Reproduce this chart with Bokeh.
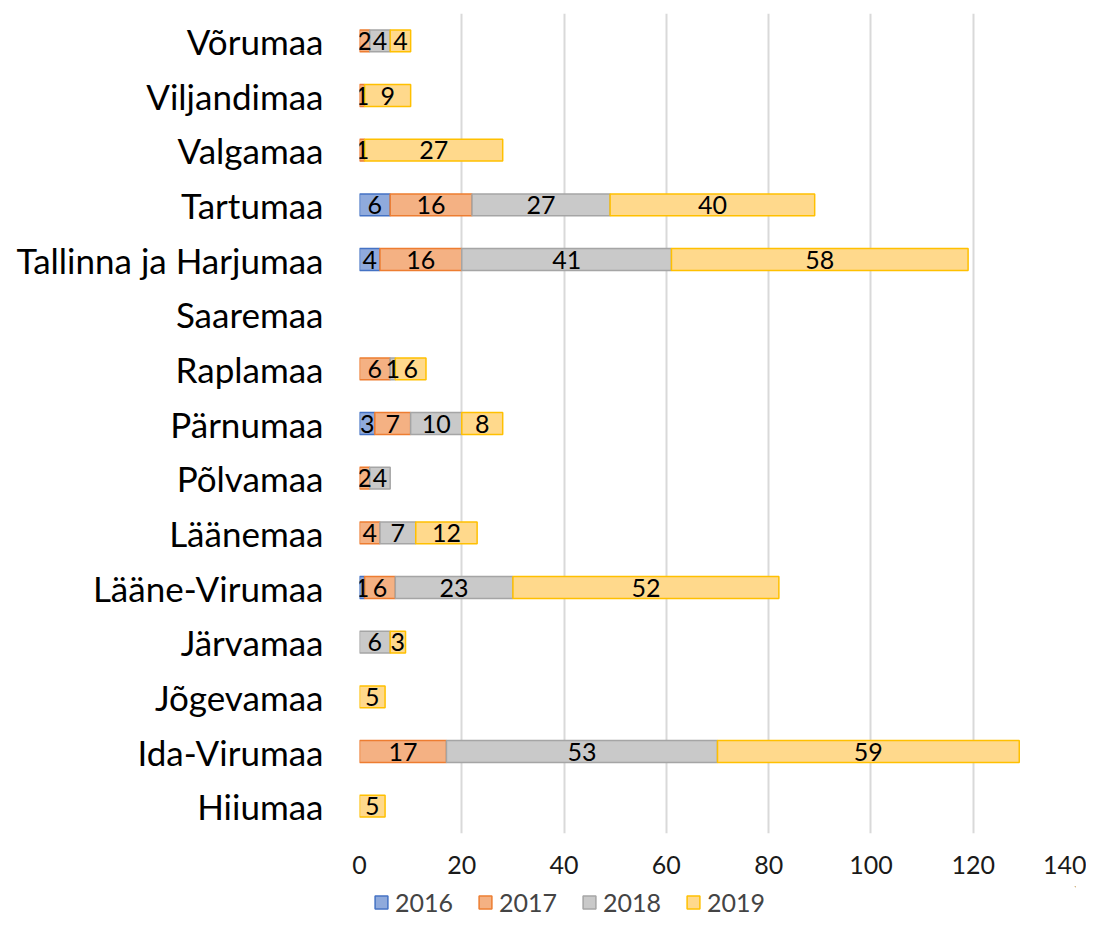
from bokeh.plotting import figure
from bokeh.layouts import column
from bokeh.models import FactorRange, Range1d, FixedTicker, Legend, LegendItem, ColumnDataSource
from bokeh.core.properties import value
from bokeh.embed import file_html
from bokeh.resources import INLINE

# categories top-to-bottom as in the chart
categories = ["Võrumaa", "Viljandimaa", "Valgamaa", "Tartumaa", "Tallinna ja Harjumaa",
              "Saaremaa", "Raplamaa", "Pärnumaa", "Põlvamaa", "Läänemaa",
              "Lääne-Virumaa", "Järvamaa", "Jõgevamaa", "Ida-Virumaa", "Hiiumaa"]
years = ["2016", "2017", "2018", "2019"]
v2016 = [0, 0, 0, 6, 4, 0, 0, 3, 0, 0, 1, 0, 0, 0, 0]
v2017 = [2, 1, 1, 16, 16, 0, 6, 7, 2, 4, 6, 0, 0, 17, 0]
v2018 = [4, 0, 0, 27, 41, 0, 1, 10, 4, 7, 23, 6, 0, 53, 0]
v2019 = [4, 9, 27, 40, 58, 0, 6, 8, 0, 12, 52, 3, 5, 59, 5]
x_ticks = [0, 20, 40, 60, 80, 100, 120, 140]

fills = ["#8faadc", "#f4b183", "#c9c9c9", "#ffd98c"]
lines = ["#4472c4", "#ed7d31", "#a5a5a5", "#ffc000"]

FONT = "Lato"

p = figure(width=1086, height=886, output_backend="svg", toolbar_location=None,
           y_range=FactorRange(*list(reversed(categories))),
           x_range=Range1d(0, 140),
           min_border_left=359, min_border_right=11, min_border_top=13, min_border_bottom=53)
p.outline_line_color = None
p.background_fill_color = "white"

series = [v2016, v2017, v2018, v2019]
lx, ly, lt = [], [], []
cum = [0] * len(categories)
for k, s in enumerate(series):
    cats, lefts, rights = [], [], []
    for i, c in enumerate(categories):
        v = s[i]
        if v > 0:
            cats.append(c)
            lefts.append(cum[i])
            rights.append(cum[i] + v)
            lx.append(cum[i] + v / 2)
            ly.append(c)
            lt.append(str(v))
        cum[i] += v
    src = ColumnDataSource(dict(y=cats, left=lefts, right=rights))
    p.hbar(y="y", left="left", right="right", height=0.4, source=src,
           fill_color=fills[k], line_color=lines[k], line_width=1.5)

p.text(x=lx, y=ly, text=lt, text_align="center", text_baseline="middle",
       text_font=value(FONT), text_font_size="25px", text_color="black")

# axes
p.xaxis.ticker = FixedTicker(ticks=x_ticks)
p.xaxis.axis_line_color = None
p.xaxis.major_tick_line_color = None
p.xaxis.minor_tick_line_color = None
p.xaxis.major_tick_out = 0
p.xaxis.major_tick_in = 0
p.xaxis.minor_tick_out = 0
p.xaxis.major_label_text_font = FONT
p.xaxis.major_label_text_font_size = "25px"
p.xaxis.major_label_text_color = "#1a1a1a"
p.xaxis.major_label_standoff = 22

p.yaxis.axis_line_color = None
p.yaxis.major_tick_line_color = None
p.yaxis.minor_tick_line_color = None
p.yaxis.major_tick_out = 0
p.yaxis.major_tick_in = 0
p.yaxis.major_label_text_font = FONT
p.yaxis.major_label_text_font_size = "35px"
p.yaxis.major_label_text_color = "black"
p.yaxis.major_label_standoff = 36

p.xgrid.grid_line_color = "#d9d9d9"
p.xgrid.grid_line_width = 2
p.ygrid.grid_line_color = None

# legend strip (separate small figure holding the legend), frame aligned with the chart
lg = figure(width=1086, height=35, output_backend="svg", toolbar_location=None,
            x_range=Range1d(0, 1), y_range=Range1d(0, 1),
            min_border_left=359, min_border_right=11, min_border_top=0, min_border_bottom=0)
lg.axis.visible = False
lg.grid.grid_line_color = None
lg.outline_line_color = None
items = []
for k, y in enumerate(years):
    # off-range placeholder bar so the legend swatch gets its colours
    r = lg.hbar(y=[5], left=[5], right=[6], height=0.4,
                fill_color=fills[k], line_color=lines[k], line_width=1.5)
    items.append(LegendItem(label=y, renderers=[r]))
legend = Legend(items=items, orientation="horizontal", location=(14, 4),
                label_text_font=FONT, label_text_font_size="25px",
                label_height=26, padding=0, margin=0,
                glyph_width=16, glyph_height=16, spacing=24, label_standoff=6,
                border_line_color=None, background_fill_alpha=0)
lg.add_layout(legend, "center")

layout = column(p, lg, spacing=0)
open("out.html", "w").write(file_html(layout, INLINE))
